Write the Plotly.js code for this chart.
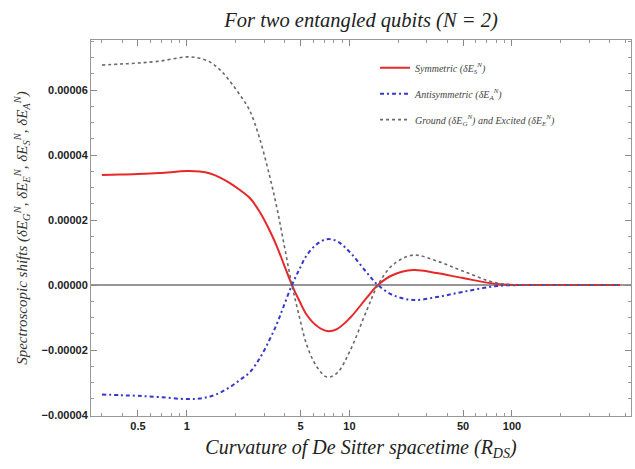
<!DOCTYPE html>
<html>
<head>
<meta charset="utf-8">
<script src="https://cdn.plot.ly/plotly-3.0.1.min.js"></script>
<style>html,body{margin:0;padding:0;background:#fff;}#chart{width:635px;height:469px;}</style>
</head>
<body>
<div id="chart"></div>
<script>
// Curvature of De Sitter spacetime (R_DS)
var rds = [0.3,0.39,0.5,0.68,1,1.2,1.39,1.6,1.84,2.12,2.44,2.81,3.24,3.58,3.9,4.43,4.96,5.47,6.31,7.27,8.38,10.07,12.8,14.97,18.5,24.6,34.5,49.9,80.9,129,262,462];
var symmetric = [3.385e-5,3.40e-5,3.415e-5,3.446e-5,3.508e-5,3.492e-5,3.431e-5,3.308e-5,3.138e-5,2.923e-5,2.677e-5,2.246e-5,1.662e-5,1.185e-5,7.08e-6,0,-5.23e-6,-9.23e-6,-1.262e-5,-1.415e-5,-1.354e-5,-1.015e-5,-3.85e-6,0,3.08e-6,4.62e-6,3.69e-6,2.15e-6,3.1e-7,0,0,0];
var antisymmetric = [-3.37e-5,-3.39e-5,-3.41e-5,-3.45e-5,-3.51e-5,-3.49e-5,-3.43e-5,-3.31e-5,-3.14e-5,-2.92e-5,-2.68e-5,-2.25e-5,-1.66e-5,-1.19e-5,-7.1e-6,0,5.2e-6,9.2e-6,1.26e-5,1.41e-5,1.35e-5,1.01e-5,3.8e-6,0,-3.1e-6,-4.6e-6,-3.7e-6,-2.1e-6,-3e-7,0,0,0];
var groundExcited = [6.77e-5,6.80e-5,6.83e-5,6.89e-5,7.02e-5,6.98e-5,6.86e-5,6.62e-5,6.27e-5,5.85e-5,5.36e-5,4.49e-5,3.32e-5,2.37e-5,1.42e-5,0,-1.05e-5,-1.85e-5,-2.52e-5,-2.83e-5,-2.71e-5,-2.03e-5,-7.7e-6,0,6.2e-6,9.2e-6,7.4e-6,4.3e-6,6e-7,0,0,0];
var seriesNames = ['Symmetric (δE<sub>S</sub><sup>N</sup>)','Antisymmetric (δE<sub>A</sub><sup>N</sup>)','Ground (δE<sub>G</sub><sup>N</sup>) and Excited (δE<sub>E</sub><sup>N</sup>)'];
var xTickVals = [0.5,1,5,10,50,100];
var xTickText = ['0.5','1','5','10','50','100'];
var xMinorVals = [0.3,0.4,0.6,0.7,0.8,0.9,2,3,4,6,7,8,9,20,30,40,60,70,80,90,200,300,400,500];
var yTickVals = [-0.00004,-0.00002,0,0.00002,0.00004,0.00006];

var serif = 'Liberation Serif, Times New Roman, serif';
var traces = [
  {x: rds, y: symmetric, name: seriesNames[0], mode: 'lines', legendgroup: 'a',
   line: {color: 'rgb(232,40,40)', width: 2, shape: 'spline', smoothing: 1}},
  {x: rds, y: antisymmetric, name: seriesNames[1], mode: 'lines', legendgroup: 'b',
   line: {color: 'rgb(55,55,205)', width: 2, dash: '4px,3px,2px,3px', shape: 'spline', smoothing: 1}},
  {x: rds, y: groundExcited, name: seriesNames[2], mode: 'lines', legendgroup: 'c',
   line: {color: 'rgb(105,105,105)', width: 1.6, dash: 'dot', shape: 'spline', smoothing: 1}}
];

var layout = {
  width: 635, height: 469,
  margin: {l: 91, r: 4, t: 40, b: 53},
  paper_bgcolor: '#fff', plot_bgcolor: '#fff',
  showlegend: true,
  title: {text: 'For two entangled qubits (N = 2)', x: 0.5, xref: 'paper', y: 0.957, yref: 'container', yanchor: 'middle',
          font: {family: serif, size: 20.5, style: 'italic', color: '#222'}},
  xaxis: {
    type: 'log', range: [Math.log10(0.257), Math.log10(540)],
    tickmode: 'array', tickvals: xTickVals, ticktext: xTickText,
    ticks: 'inside', ticklen: 6, tickcolor: '#888', showgrid: false, zeroline: false,
    showline: true, linecolor: '#999', linewidth: 1, mirror: 'allticks',
    minor: {tickmode: 'array', tickvals: xMinorVals, ticks: 'inside', ticklen: 3, tickcolor: '#999', showgrid: false},
    tickfont: {family: 'Liberation Sans, Arial, sans-serif', size: 11, weight: 'bold', color: '#222'},
    title: {text: 'Curvature of De Sitter spacetime (R<sub>DS</sub>)', standoff: 8,
            font: {family: serif, size: 20, style: 'italic', color: '#222'}}
  },
  yaxis: {
    range: [-0.0000403, 0.0000754],
    tickmode: 'array', tickvals: yTickVals, tickformat: '.5f',
    ticks: 'inside', ticklen: 6, tickcolor: '#888', showgrid: false,
    zeroline: true, zerolinecolor: 'rgb(150,150,150)', zerolinewidth: 1.5,
    showline: true, linecolor: '#999', linewidth: 1, mirror: 'allticks',
    minor: {dtick: 0.000005, ticks: 'inside', ticklen: 3, tickcolor: '#999', showgrid: false},
    tickfont: {family: 'Liberation Sans, Arial, sans-serif', size: 11, weight: 'bold', color: '#222'},
    title: {text: 'Spectroscopic shifts (δE<sub>G</sub><sup>N</sup>, δE<sub>E</sub><sup>N</sup>, δE<sub>S</sub><sup>N</sup>, δE<sub>A</sub><sup>N</sup>)', standoff: 10,
            font: {family: serif, size: 15, style: 'italic', color: '#333'}}
  },
  legend: {x: 0.526, y: 0.965, xanchor: 'left', yanchor: 'top', bgcolor: 'rgba(255,255,255,0)',
           tracegroupgap: 7, traceorder: 'grouped', itemwidth: 30,
           font: {family: serif, size: 10, style: 'italic', color: '#444'}}
};

Plotly.newPlot('chart', traces, layout, {displayModeBar: false, staticPlot: true});
</script>
</body>
</html>
